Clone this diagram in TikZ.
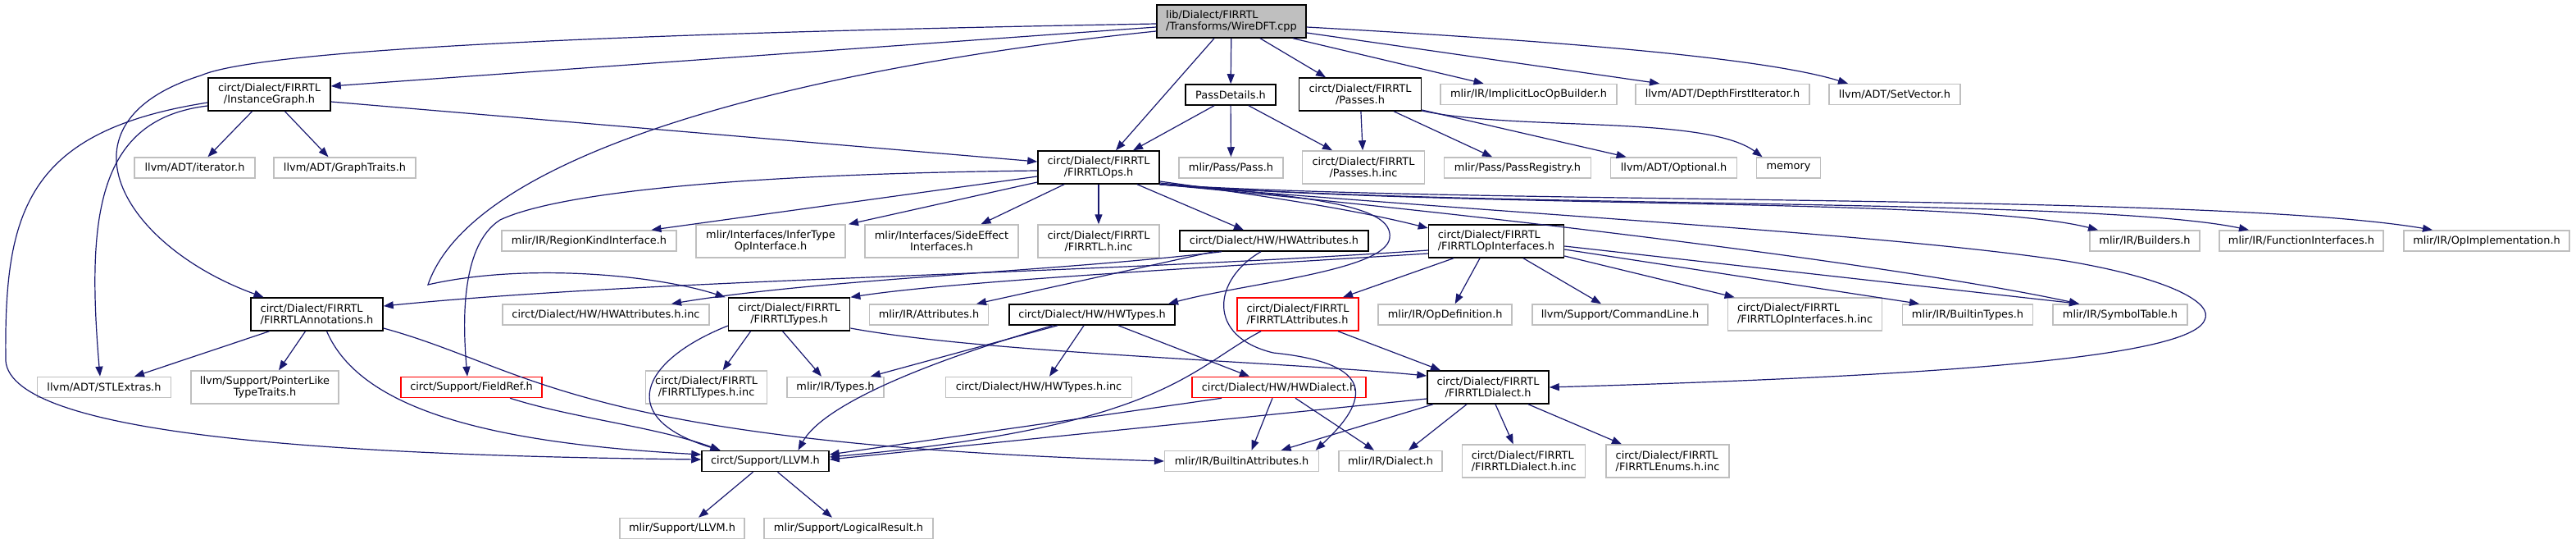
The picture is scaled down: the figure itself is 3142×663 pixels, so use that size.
\documentclass[tikz,border=0pt]{standalone}
\usepackage{fontspec}
\setmainfont{DejaVu Sans}
\usepackage{tikz}
\usetikzlibrary{arrows.meta}
\definecolor{edgeblue}{HTML}{191970}
\definecolor{extgray}{HTML}{BFBFBF}
\definecolor{rootgray}{HTML}{BFBFBF}
\definecolor{truncred}{HTML}{FF0000}

\begin{document}
\begin{tikzpicture}[
  x=1pt, y=-1pt,
  every node/.style={font=\fontsize{12.9}{14}\selectfont, inner sep=0pt,
                     minimum height=25pt, align=center},
  file/.style={draw=black, line width=1.5pt, fill=white},
  rootfile/.style={file, fill=rootgray},
  ext/.style={draw=extgray, line width=1.5pt, fill=white},
  trunc/.style={draw=truncred, line width=1.5pt, fill=white},
  tall/.style={minimum height=40pt},
  dep/.style={-{Triangle[length=12pt,width=9pt]}, draw=edgeblue, line width=1.2pt}
]
\fill[white] (0,0) rectangle (3142,663);
\useasboundingbox (0,0) rectangle (3142,663);

\node[rootfile, tall, align=left, minimum width=182pt] (root) at (1502,26) {lib/Dialect/FIRRTL\\/Transforms/WireDFT.cpp};

\node[file, tall, minimum width=149pt] (inst) at (328.5,115) {circt/Dialect/FIRRTL\\/InstanceGraph.h};
\node[file, minimum width=110pt] (passdetails) at (1501,115.5) {PassDetails.h};
\node[file, tall, minimum width=149pt] (passes) at (1659,115) {circt/Dialect/FIRRTL\\/Passes.h};
\node[ext, minimum width=215pt] (implicitloc) at (1864.5,115) {mlir/IR/ImplicitLocOpBuilder.h};
\node[ext, minimum width=212pt] (dfs) at (2101,115) {llvm/ADT/DepthFirstIterator.h};
\node[ext, minimum width=160pt] (setvector) at (2311,115) {llvm/ADT/SetVector.h};

\node[ext, minimum width=147pt] (iterator) at (237.5,204.5) {llvm/ADT/iterator.h};
\node[ext, minimum width=173pt] (graphtraits) at (420.5,204.5) {llvm/ADT/GraphTraits.h};
\node[file, tall, minimum width=148pt] (ops) at (1340,204) {circt/Dialect/FIRRTL\\/FIRRTLOps.h};
\node[ext, minimum width=127pt] (pass) at (1501.5,204.5) {mlir/Pass/Pass.h};
\node[ext, tall, minimum width=149pt] (passesinc) at (1663,204) {circt/Dialect/FIRRTL\\/Passes.h.inc};
\node[ext, minimum width=179pt] (passregistry) at (1851,204.5) {mlir/Pass/PassRegistry.h};
\node[ext, minimum width=154pt] (optional) at (2041.6,204.5) {llvm/ADT/Optional.h};
\node[ext, minimum width=78pt] (memory) at (2181.6,204.5) {memory};

\node[ext, minimum width=213pt] (regionkind) at (718.5,293.5) {mlir/IR/RegionKindInterface.h};
\node[ext, tall, minimum width=182pt] (infertype) at (940,294) {mlir/Interfaces/InferType\\OpInterface.h};
\node[ext, tall, minimum width=187pt] (sideeffect) at (1148.5,294) {mlir/Interfaces/SideEffect\\Interfaces.h};
\node[ext, tall, minimum width=148pt] (firrtlinc) at (1340,294) {circt/Dialect/FIRRTL\\/FIRRTL.h.inc};
\node[file, minimum width=230pt] (hwattr) at (1554,293.5) {circt/Dialect/HW/HWAttributes.h};
\node[file, tall, align=left, minimum width=165pt] (opinterfaces) at (1825,294) {circt/Dialect/FIRRTL\\/FIRRTLOpInterfaces.h};
\node[ext, minimum width=134pt] (builders) at (2616,293.5) {mlir/IR/Builders.h};
\node[ext, minimum width=200pt] (funcinterfaces) at (2807,293.5) {mlir/IR/FunctionInterfaces.h};
\node[ext, minimum width=202pt] (opimpl) at (3033,293.5) {mlir/IR/OpImplementation.h};

\node[file, tall, align=left, minimum width=161pt] (annotations) at (386.5,383) {circt/Dialect/FIRRTL\\/FIRRTLAnnotations.h};
\node[ext, minimum width=252pt] (hwattrinc) at (739,383.5) {circt/Dialect/HW/HWAttributes.h.inc};
\node[file, tall, minimum width=148pt] (types) at (962.6,383) {circt/Dialect/FIRRTL\\/FIRRTLTypes.h};
\node[ext, minimum width=145pt] (attributes) at (1133,383.5) {mlir/IR/Attributes.h};
\node[file, minimum width=202pt] (hwtypes) at (1332,383.5) {circt/Dialect/HW/HWTypes.h};
\node[trunc, tall, align=left, minimum width=148pt] (firattrs) at (1583,383) {circt/Dialect/FIRRTL\\/FIRRTLAttributes.h};
\node[ext, minimum width=163pt] (opdef) at (1762.7,383.5) {mlir/IR/OpDefinition.h};
\node[ext, minimum width=214pt] (cmdline) at (1976,383.5) {llvm/Support/CommandLine.h};
\node[ext, tall, align=left, minimum width=188pt] (opifinc) at (2201.6,383) {circt/Dialect/FIRRTL\\/FIRRTLOpInterfaces.h.inc};
\node[ext, minimum width=159pt] (builtintypes) at (2400,383.5) {mlir/IR/BuiltinTypes.h};
\node[ext, minimum width=164pt] (symboltable) at (2586,383.5) {mlir/IR/SymbolTable.h};

\node[ext, minimum width=163pt] (stlextras) at (127,472) {llvm/ADT/STLExtras.h};
\node[ext, tall, minimum width=180pt] (pointerlike) at (323,472) {llvm/Support/PointerLike\\TypeTraits.h};
\node[trunc, minimum width=172pt] (fieldref) at (575,472) {circt/Support/FieldRef.h};
\node[ext, tall, minimum width=148pt] (typesinc) at (861.6,472) {circt/Dialect/FIRRTL\\/FIRRTLTypes.h.inc};
\node[ext, minimum width=118pt] (mlirtypes) at (1019,472) {mlir/IR/Types.h};
\node[ext, minimum width=227pt] (hwtypesinc) at (1267,472) {circt/Dialect/HW/HWTypes.h.inc};
\node[trunc, minimum width=212pt] (hwdialect) at (1560,472) {circt/Dialect/HW/HWDialect.h};
\node[file, tall, minimum width=148pt] (dialect) at (1815,472) {circt/Dialect/FIRRTL\\/FIRRTLDialect.h};

\node[file, minimum width=155pt] (llvm) at (933.5,562) {circt/Support/LLVM.h};
\node[ext, minimum width=188pt] (builtinattrs) at (1514.6,562) {mlir/IR/BuiltinAttributes.h};
\node[ext, minimum width=126pt] (mlirdialect) at (1696,562) {mlir/IR/Dialect.h};
\node[ext, tall, align=left, minimum width=150pt] (dialectinc) at (1858.7,562) {circt/Dialect/FIRRTL\\/FIRRTLDialect.h.inc};
\node[ext, tall, align=left, minimum width=150pt] (enumsinc) at (2034,562) {circt/Dialect/FIRRTL\\/FIRRTLEnums.h.inc};

\node[ext, minimum width=152pt] (mlirllvm) at (832,644) {mlir/Support/LLVM.h};
\node[ext, minimum width=206pt] (logicalresult) at (1035,644) {mlir/Support/LogicalResult.h};

\draw[dep] (root) -- (passdetails);
\draw[dep] ([xshift=-21pt]root.south) -- ([xshift=21pt]ops.north);
\draw[dep] ([xshift=35pt]root.south) -- ([xshift=-42pt]passes.north);
\draw[dep] ([xshift=75pt]root.south) -- ([xshift=-55pt]implicitloc.north);
\draw[dep] ([yshift=-14pt]root.east) -- ([xshift=-77pt]dfs.north);
\draw[dep] ([yshift=-7pt]root.east) .. controls (1900,50) and (2150,70) .. ([xshift=-57pt]setvector.north);
\draw[dep] ([yshift=-7pt]root.west) -- ([yshift=10pt]inst.east);
\draw[dep] ([yshift=-3pt]root.west) .. controls (900,38) and (330,55) .. (245,92)
  .. controls (60,150) and (150,300) .. ([xshift=-65pt]annotations.north);
\draw[dep] ([yshift=-12pt]root.west) .. controls (1000,80) and (580,180) .. (522,347)
  .. controls (640,320) and (800,335) .. ([xshift=-78pt]types.north);

\draw[dep] ([xshift=-21pt]inst.south) -- ([xshift=16pt]iterator.north);
\draw[dep] ([xshift=19pt]inst.south) -- ([xshift=-20pt]graphtraits.north);
\draw[dep] ([yshift=-9pt]inst.east) -- ([yshift=7pt]ops.west);
\draw[dep] ([yshift=-14pt]inst.west) .. controls (120,145) and (105,260) .. ([xshift=-5pt]stlextras.north);
\draw[dep] ([yshift=-10pt]inst.west) .. controls (30,160) and (5,260) .. (7,440)
  .. controls (15,530) and (400,555) .. ([yshift=2pt]llvm.west);

\draw[dep] ([xshift=-58pt]annotations.south) -- ([xshift=37pt]stlextras.north);
\draw[dep] ([xshift=-14pt]annotations.south) -- ([xshift=17pt]pointerlike.north);
\draw[dep] ([xshift=12pt]annotations.south) .. controls (440,500) and (600,540) .. ([yshift=8pt]llvm.west);
\draw[dep] ([yshift=-17pt]annotations.east) .. controls (650,450) and (700,540) .. (builtinattrs.west);

\draw[dep] ([yshift=-11pt]ops.west) -- ([xshift=76pt]regionkind.north);
\draw[dep] ([yshift=-18pt]ops.west) -- ([xshift=95pt]infertype.north);
\draw[dep] ([xshift=-42pt]ops.south) -- ([xshift=48pt]sideeffect.north);
\draw[dep] (ops) -- (firrtlinc);
\draw[dep] ([xshift=47pt]ops.south) -- ([xshift=-37pt]hwattr.north);
\draw[dep] ([yshift=-4pt]ops.west) .. controls (900,212) and (680,235) .. (610,268)
  .. controls (560,300) and (565,400) .. ([xshift=-5pt]fieldref.north);
\draw[dep] ([yshift=-17pt]ops.east) .. controls (1550,240) and (1650,255) .. ([yshift=16pt]opinterfaces.west);
\draw[dep] ([yshift=-19pt]ops.east) .. controls (1600,240) and (1700,250) .. (1695,290)
  .. controls (1690,330) and (1520,345) .. ([xshift=93pt]hwtypes.north);
\draw[dep] (ops.south east) .. controls (1800,255) and (2400,240) .. ([xshift=-57pt]builders.north);
\draw[dep] (ops.south east) .. controls (1800,255) and (2550,240) .. ([xshift=-64pt]funcinterfaces.north);
\draw[dep] (ops.south east) .. controls (1800,250) and (2700,235) .. ([xshift=-66pt]opimpl.north);
\draw[dep] (ops.south east) .. controls (1900,270) and (2350,330) .. ([xshift=-50pt]symboltable.north);
\draw[dep] (ops.south east) .. controls (1900,265) and (2300,285) .. (2520,318)
  .. controls (2650,340) and (2700,370) .. (2689,390)
  .. controls (2670,440) and (2300,460) .. (dialect.east);

\draw[dep] ([xshift=-20pt]passdetails.south) -- ([xshift=42pt]ops.north);
\draw[dep] (passdetails) -- (pass);
\draw[dep] ([xshift=22pt]passdetails.south) -- ([xshift=-38pt]passesinc.north);

\draw[dep] (passes) -- (passesinc);
\draw[dep] ([xshift=41pt]passes.south) -- ([xshift=-31pt]passregistry.north);
\draw[dep] ([yshift=-19pt]passes.east) -- ([xshift=-58pt]optional.north);
\draw[dep] ([yshift=-20pt]passes.east) .. controls (1850,160) and (2080,140) .. ([xshift=-32pt]memory.north);

\draw[dep] ([xshift=-52pt]opinterfaces.south) -- ([xshift=55pt]firattrs.north);
\draw[dep] ([xshift=-20pt]opinterfaces.south) -- ([xshift=12pt]opdef.north);
\draw[dep] ([xshift=33pt]opinterfaces.south) -- ([xshift=-23pt]cmdline.north);
\draw[dep] ([yshift=-18pt]opinterfaces.east) -- ([xshift=-86pt]opifinc.north);
\draw[dep] ([yshift=-10pt]opinterfaces.east) -- ([xshift=-59pt]builtintypes.north);
\draw[dep] ([yshift=-6pt]opinterfaces.east) -- ([xshift=-50pt]symboltable.north);
\draw[dep] ([yshift=-15pt]opinterfaces.west) .. controls (1400,330) and (1150,345) .. (types.north east);
\draw[dep] ([yshift=-11pt]opinterfaces.west) .. controls (1300,335) and (800,340) .. ([yshift=10pt]annotations.east);

\draw[dep] ([xshift=-64pt]hwattr.south) .. controls (1300,330) and (1000,340) .. ([xshift=80pt]hwattrinc.north);
\draw[dep] ([xshift=-74pt]hwattr.south) -- ([xshift=58pt]attributes.north);
\draw[dep] ([xshift=-16pt]hwattr.south) .. controls (1480,340) and (1470,410) .. (1553,430)
  .. controls (1650,440) and (1690,470) .. ([xshift=90pt]builtinattrs.north);

\draw[dep] ([xshift=-47pt]types.south) -- ([xshift=20pt]typesinc.north);
\draw[dep] ([xshift=-8pt]types.south) -- ([xshift=-17pt]mlirtypes.north);
\draw[dep] ([yshift=-14pt]types.west) .. controls (780,440) and (750,510) .. ([xshift=-55pt]llvm.north);
\draw[dep] ([yshift=-17pt]types.east) .. controls (1200,430) and (1550,440) .. ([yshift=14pt]dialect.west);

\draw[dep] ([xshift=-42pt]hwtypes.south) -- ([xshift=43pt]mlirtypes.north);
\draw[dep] ([xshift=-10pt]hwtypes.south) -- ([xshift=13pt]hwtypesinc.north);
\draw[dep] ([xshift=32pt]hwtypes.south) -- ([xshift=-36pt]hwdialect.north);
\draw[dep] ([xshift=-48pt]hwtypes.south) .. controls (1100,450) and (1000,500) .. ([xshift=40pt]llvm.north);

\draw[dep] ([xshift=49pt]firattrs.south) -- ([xshift=-58pt]dialect.north);
\draw[dep] ([xshift=-45pt]firattrs.south) .. controls (1450,450) and (1420,520) .. ([yshift=5pt]llvm.east);

\draw[dep] ([xshift=-70pt]hwdialect.south) -- ([yshift=8pt]llvm.east);
\draw[dep] ([xshift=-8pt]hwdialect.south) -- ([xshift=12pt]builtinattrs.north);
\draw[dep] ([xshift=20pt]hwdialect.south) -- ([xshift=-20pt]mlirdialect.north);

\draw[dep] ([yshift=-14pt]dialect.west) -- ([yshift=2pt]llvm.east);
\draw[dep] ([xshift=-67pt]dialect.south) -- ([xshift=48pt]builtinattrs.north);
\draw[dep] ([xshift=-26pt]dialect.south) -- ([xshift=22pt]mlirdialect.north);
\draw[dep] ([xshift=9pt]dialect.south) -- ([xshift=-13pt]dialectinc.north);
\draw[dep] ([xshift=49pt]dialect.south) -- ([xshift=-56pt]enumsinc.north);

\draw[dep] ([xshift=47pt]fieldref.south) .. controls (700,510) and (800,520) .. ([xshift=-55pt]llvm.north);

\draw[dep] ([xshift=-15pt]llvm.south) -- ([xshift=20pt]mlirllvm.north);
\draw[dep] ([xshift=15pt]llvm.south) -- ([xshift=-20pt]logicalresult.north);
\end{tikzpicture}
\end{document}
